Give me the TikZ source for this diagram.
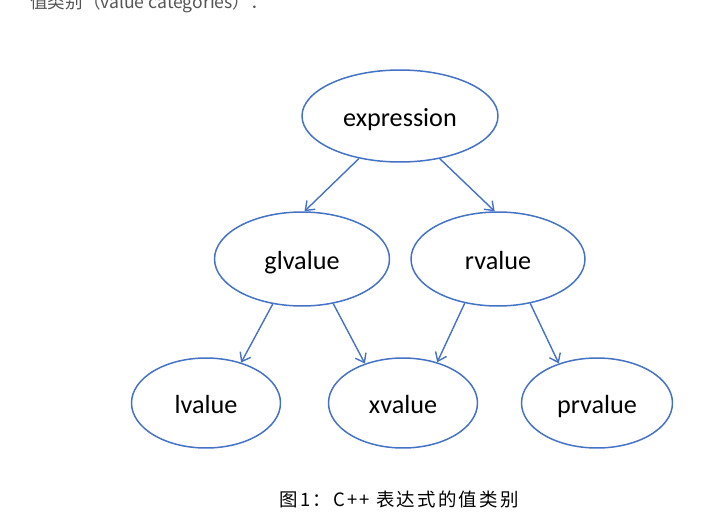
\documentclass[tikz,border=0pt]{standalone}
\usepackage{fontspec}
\setmainfont{Carlito}
\newfontfamily\cjkfont{Noto Sans CJK SC}
\newfontfamily\capfont[LetterSpace=12]{Noto Sans CJK SC}
\usepackage{xcolor}
\usetikzlibrary{arrows.meta,shapes.geometric}
\definecolor{edgeblue}{HTML}{4472C4}
\definecolor{headgray}{HTML}{555555}
\tikzset{
  catnode/.style={
    ellipse, draw=edgeblue, line width=0.85pt, inner sep=0pt,
    text height=13pt, text depth=1pt,
    font=\fontsize{14.9}{17}\selectfont
  },
  catarrow/.style={-{Straight Barb[length=1.6mm,width=2.4mm]}, line width=0.8pt, color=edgeblue},
}

\begin{document}
\begin{tikzpicture}[x=0.02cm, y=-0.02cm]
  \useasboundingbox (0,0) rectangle (716,524);
  \node[anchor=base west, inner sep=0pt, text=headgray, font=\cjkfont\fontsize{10}{12}\selectfont] (head) at (30,9) {值类别（value categories）：};
  \node[catnode, minimum width=3.92cm, minimum height=1.84cm] (expr) at (400,116) {expression};
  \node[catnode, minimum width=3.5cm, minimum height=1.88cm] (gl) at (302,259) {glvalue};
  \node[catnode, minimum width=3.48cm, minimum height=1.88cm] (rv) at (498,259) {rvalue};
  \node[catnode, minimum width=2.98cm, minimum height=1.8cm] (lv) at (206,403) {lvalue};
  \node[catnode, minimum width=2.98cm, minimum height=1.8cm] (xv) at (403,403) {xvalue};
  \node[catnode, minimum width=3.02cm, minimum height=1.8cm] (prv) at (597,403) {prvalue};
  \draw[catarrow] (expr.226) -- (gl.87);
  \draw[catarrow] (expr.313) -- (rv.94);
  \draw[catarrow] (gl.237) -- (lv.49);
  \draw[catarrow] (gl.305) -- (xv.134);
  \draw[catarrow] (rv.233) -- (xv.50);
  \draw[catarrow] (rv.306) -- (prv.134);
  \node[anchor=base, inner sep=0pt, font=\capfont\fontsize{10.5}{12}\selectfont] (cap) at (399,506) {图1：C++ 表达式的值类别};
\end{tikzpicture}
\end{document}
